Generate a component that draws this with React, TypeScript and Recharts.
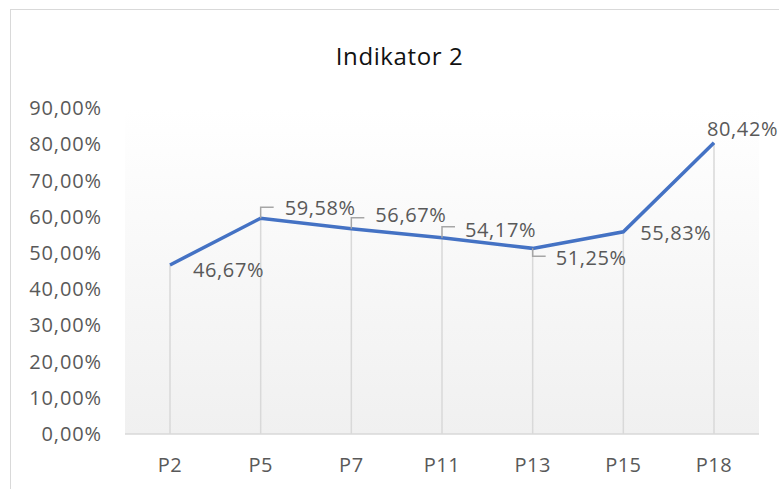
import {
  LineChart,
  Line,
  XAxis,
  YAxis,
  CartesianGrid,
  ReferenceLine,
  LabelList,
} from 'recharts'

const categories = ['P2', 'P5', 'P7', 'P11', 'P13', 'P15', 'P18']
const values = [0.4667, 0.5958, 0.5667, 0.5417, 0.5125, 0.5583, 0.8042]
const yTicks = [0, 0.1, 0.2, 0.3, 0.4, 0.5, 0.6, 0.7, 0.8, 0.9]

// label placement relative to each point: [dx, dy, leader]
const labelPlacement: Array<[number, number, 'up' | 'down' | null]> = [
  [23, 5, null],
  [24, -10, 'up'],
  [24, -14, 'up'],
  [23, -8, 'up'],
  [23, 9, 'down'],
  [17, 1, null],
  [-7, -14, null],
]

const FONT = '"Open Sans", sans-serif'
const TEXT = '#595959'

const chartData = categories.map((name, i) => ({ name, value: values[i] }))

const fmt = (v: number) => (v * 100).toFixed(2).replace('.', ',') + '%'

function PointLabel(props: any) {
  const { x, y, value, index } = props
  const [dx, dy, leader] = labelPlacement[index]
  return (
    <g>
      {leader === 'up' && (
        <polyline
          points={`${x},${y} ${x},${y - 11} ${x + 13},${y - 11}`}
          fill="none"
          stroke="#a6a6a6"
          strokeWidth={1.5}
        />
      )}
      {leader === 'down' && (
        <polyline
          points={`${x},${y} ${x},${y + 8} ${x + 13},${y + 8}`}
          fill="none"
          stroke="#a6a6a6"
          strokeWidth={1.5}
        />
      )}
      <text
        x={x + dx}
        y={y + dy}
        dy="0.36em"
        fill={TEXT}
        fontSize={20}
        fontFamily={FONT}
        letterSpacing={0.6}
      >
        {fmt(value)}
      </text>
    </g>
  )
}

export default function App() {
  return (
    <div
      style={{
        position: 'absolute',
        left: 0,
        top: 0,
        width: 779,
        height: 489,
        overflow: 'hidden',
        background: '#fff',
      }}
    >
      <div
        style={{
          position: 'absolute',
          left: 10,
          top: 9,
          width: 800,
          height: 520,
          border: '1.5px solid #d9d9d9',
        }}
      />
      <div
        style={{
          position: 'absolute',
          left: 0,
          top: 39,
          width: 799,
          textAlign: 'center',
          fontFamily: FONT,
          fontSize: 24,
          letterSpacing: 0.6,
          color: '#111',
        }}
      >
        Indikator 2
      </div>
      <div style={{ position: 'absolute', left: 0, top: 0 }}>
        <LineChart
          width={779}
          height={489}
          data={chartData}
          margin={{ top: 108, right: 20, bottom: 25, left: 0 }}
        >
          <defs>
            <linearGradient id="plotBg" x1="0" y1="0" x2="0" y2="1">
              <stop offset="0%" stopColor="#ffffff" />
              <stop offset="100%" stopColor="#f0f0f0" />
            </linearGradient>
          </defs>
          <CartesianGrid horizontal={false} vertical={false} fill="url(#plotBg)" />
          <XAxis
            dataKey="name"
            height={30}
            padding={{ left: 45, right: 45 }}
            axisLine={{ stroke: '#d9d9d9', strokeWidth: 1.5 }}
            tickLine={false}
            tickSize={0}
            tickMargin={24}
            tick={{ fill: TEXT, fontSize: 20, fontFamily: FONT, letterSpacing: 0.5 }}
          />
          <YAxis
            width={125}
            domain={[0, 0.9]}
            ticks={yTicks}
            axisLine={false}
            tickLine={false}
            tickSize={0}
            tickMargin={23}
            tickFormatter={fmt}
            tick={{ fill: TEXT, fontSize: 20, fontFamily: FONT, letterSpacing: 0.9 }}
          />
          {chartData.map((d) => (
            <ReferenceLine
              key={d.name}
              segment={[
                { x: d.name, y: 0 },
                { x: d.name, y: d.value },
              ]}
              stroke="#d9d9d9"
              strokeWidth={1.5}
            />
          ))}
          <Line
            type="linear"
            dataKey="value"
            stroke="#4472C4"
            strokeWidth={3.5}
            dot={false}
            activeDot={false}
            isAnimationActive={false}
          >
            <LabelList dataKey="value" content={<PointLabel />} />
          </Line>
        </LineChart>
      </div>
    </div>
  )
}
